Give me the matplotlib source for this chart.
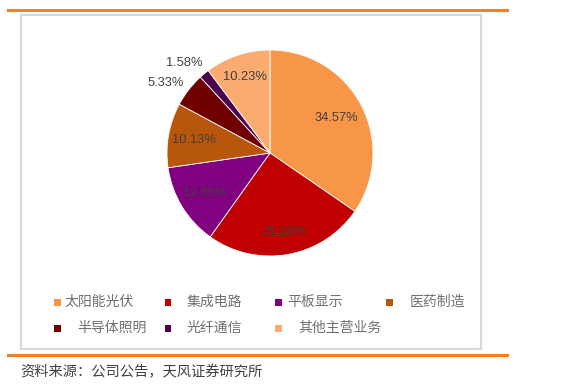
import numpy as np
import matplotlib
matplotlib.use("Agg")
import matplotlib.pyplot as plt
from matplotlib.patches import Rectangle
from matplotlib.lines import Line2D

plt.rcParams["font.family"] = ["Noto Sans CJK SC", "DejaVu Sans"]

# Data
categories = ["太阳能光伏", "集成电路", "平板显示", "医药制造", "半导体照明", "光纤通信", "其他主营业务"]
shares = [34.57, 25.26, 12.85, 10.13, 5.33, 1.58, 10.23]
colors = ["#F79646", "#C00000", "#800080", "#B8560B", "#700000", "#4B0050", "#FAAB70"]
source_note = "资料来源：公司公告，天风证券研究所"

# label radius per slice (small slices labelled outside)
label_radius = [0.73, 0.78, 0.74, 0.75, 1.22, 1.21, 0.78]
label_shift = [(0, 0), (0, 0), (0, 0), (0, 0), (-0.045, -0.066), (-0.06, -0.054), (0, 0)]

W, H = 563, 392
fig = plt.figure(figsize=(W / 100, H / 100), dpi=100)
fig.patch.set_facecolor("white")


def fx(px):
    return px / W


def fy(py):
    return 1 - py / H


# orange rules and grey frame
orange = "#F08223"
fig.add_artist(Line2D([fx(8), fx(507)], [fy(10), fy(10)], color=orange, lw=2.2))
fig.add_artist(Line2D([fx(8), fx(507)], [fy(355), fy(355)], color=orange, lw=2.2))
fig.add_artist(Rectangle((fx(21), fy(349)), fx(460), 334 / H, fill=False,
                         edgecolor="#D9D9D9", lw=1.5))

# pie axes: centre (270,153), radius 103 px
cx, cy, r = 270, 153, 103
ax = fig.add_axes([fx(cx - r), fy(cy + r), 2 * r / W, 2 * r / H])
wedges, _ = ax.pie(shares, colors=colors, startangle=90, counterclock=False,
                   radius=1, wedgeprops={"linewidth": 0.6, "edgecolor": "white"})
ax.set_xlim(-1, 1)
ax.set_ylim(-1, 1)
ax.set_aspect("auto")
ax.axis("off")

for w, val, rad, (dx, dy) in zip(wedges, shares, label_radius, label_shift):
    ang = np.deg2rad((w.theta1 + w.theta2) / 2)
    x = rad * np.cos(ang) + dx
    y = rad * np.sin(ang) + dy
    ax.text(x, y, f"{val:.2f}%", ha="center", va="center", fontsize=9.3,
            color="#404040", family=["Liberation Sans", "DejaVu Sans"], clip_on=False)

# legend drawn manually to follow the reference spacing
legend_pos = [(57, 64, 302), (168, 187, 302), (278, 287, 302), (389, 410, 302),
              (57, 77, 328), (168, 187, 328), (278, 298, 328)]
for (mx, tx, ty), name, col in zip(legend_pos, categories, colors):
    fig.add_artist(Rectangle((fx(mx - 3.5), fy(ty + 3.5)), 7 / W, 7 / H,
                             facecolor=col, edgecolor="none"))
    fig.text(fx(tx), fy(ty), name, ha="left", va="center", fontsize=10, color="#707070")

fig.text(fx(20), fy(372), source_note, ha="left", va="center", fontsize=10.3, color="#404040")

fig.savefig("out.png", dpi=100)
